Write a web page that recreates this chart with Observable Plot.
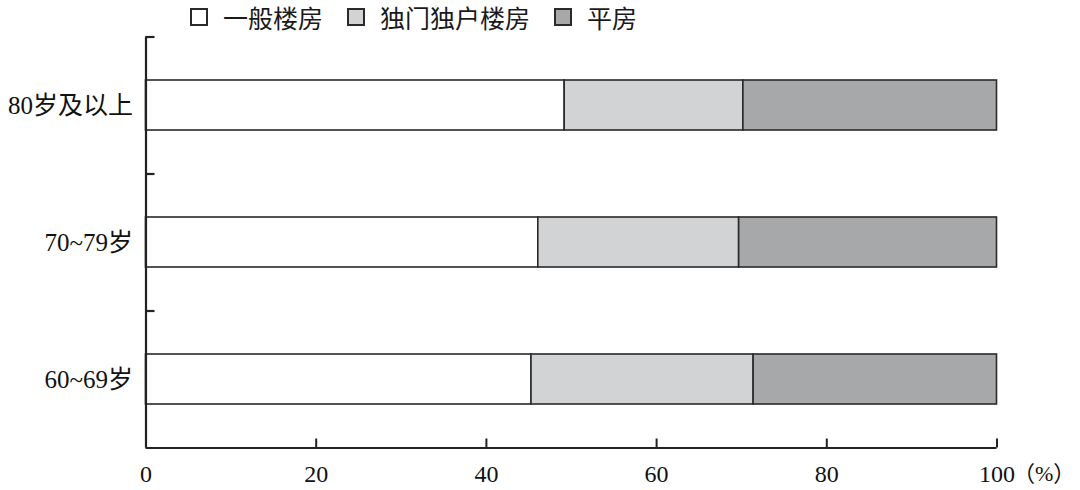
<!DOCTYPE html>
<html><head><meta charset="utf-8">
<script src="https://cdn.jsdelivr.net/npm/d3@7"></script>
<script src="https://cdn.jsdelivr.net/npm/@observablehq/plot@0.6"></script>
<style>
body{margin:0;background:#fff;}
#wrap{position:relative;width:1080px;height:490px;overflow:hidden;}
#legend{position:absolute;left:190px;top:0;height:33px;display:flex;align-items:center;font-family:"Noto Sans CJK SC",sans-serif;font-size:25px;color:#1a1a1a;z-index:2;}
.item{display:flex;align-items:center;margin-right:24px;}
.sw{width:14px;height:14px;border:2px solid #2a2a2a;margin-right:15px;}
#chart{position:absolute;left:0;top:0;}
</style></head>
<body><div id="wrap"><div id="legend"></div><div id="chart"></div></div>
<script>
const ageGroups = ["80岁及以上", "70~79岁", "60~69岁"];
const housingTypes = ["一般楼房", "独门独户楼房", "平房"];
const typeColors = ["#ffffff", "#d2d3d5", "#a7a8aa"];
const ordinaryBuilding = [49.2, 46.1, 45.3];
const detachedBuilding = [21.0, 23.6, 26.1];
const bungalow = [29.8, 30.3, 28.6];
const xTicks = [0, 20, 40, 60, 80, 100];
const unitLabel = "（%）";

const series = [ordinaryBuilding, detachedBuilding, bungalow];
const rows = [];
ageGroups.forEach((age, i) => {
  housingTypes.forEach((type, j) => rows.push({age, type, value: series[j][i]}));
});

// legend
const legend = document.getElementById("legend");
housingTypes.forEach((t, j) => {
  const it = document.createElement("div"); it.className = "item";
  const sw = document.createElement("div"); sw.className = "sw"; sw.style.background = typeColors[j];
  const tx = document.createElement("span"); tx.textContent = t;
  it.appendChild(sw); it.appendChild(tx); legend.appendChild(it);
});

const W = 1080, H = 490;
const mL = 145.5, mR = 83.5, mT = 36.5, mB = 42.5;
const frameW = W - mL - mR, frameH = H - mT - mB;
const halfStep = frameH / ageGroups.length / 2;
const axisColor = "#222";

const chart = Plot.plot({
  width: W, height: H,
  marginLeft: mL, marginRight: mR, marginTop: mT, marginBottom: mB,
  style: {fontFamily: '"Liberation Serif","Noto Sans CJK SC",serif', fontSize: "24px", color: "#111", background: "transparent", overflow: "visible"},
  x: {domain: [0, 100], label: null},
  y: {domain: ageGroups, paddingInner: 0.635, paddingOuter: 0.3175, round: false, label: null},
  color: {domain: housingTypes, range: typeColors},
  marks: [
    Plot.barX(rows, {y: "age", x: "value", fill: "type", stroke: "#2a2a2a", strokeWidth: 1.6, order: null}),
    Plot.ruleX([0], {stroke: axisColor, strokeWidth: 2.2}),
    Plot.tickY([ageGroups[ageGroups.length - 1]], {y: d => d, dy: halfStep, stroke: axisColor, strokeWidth: 2.2}),
    Plot.tickY(ageGroups, {y: d => d, dy: -halfStep, insetRight: frameW - 9, stroke: axisColor, strokeWidth: 2.2}),
    Plot.tickX(xTicks, {x: d => d, insetTop: frameH - 9, stroke: axisColor, strokeWidth: 2}),
    Plot.axisX({ticks: xTicks, tickSize: 0, tickPadding: 17, tickFormat: d => String(d), fill: "#111", fontSize: 24, label: null}),
    Plot.axisY({tickSize: 0, tickPadding: 13, fill: "#111", fontSize: 25, label: null}),
    Plot.text([100], {x: d => d, text: () => unitLabel, frameAnchor: "bottom", dy: 17, dx: 16, textAnchor: "start", lineAnchor: "top", fill: "#111", fontSize: 22})
  ]
});
document.getElementById("chart").appendChild(chart);
</script>
</body></html>
